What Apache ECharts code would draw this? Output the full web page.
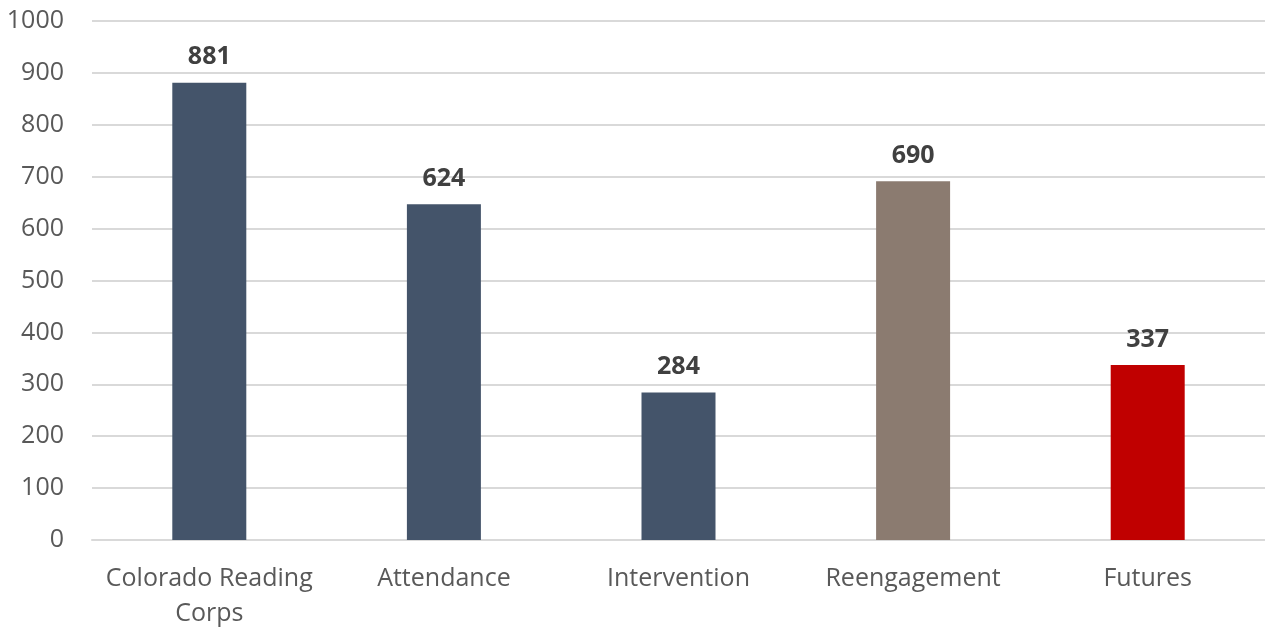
<!DOCTYPE html>
<html><head><meta charset="utf-8">
<script src="https://cdn.jsdelivr.net/npm/echarts@6/dist/echarts.min.js"></script>
<style>html,body{margin:0;padding:0;background:#fff}#c{width:1265px;height:631px}</style>
</head><body><div id="c"></div>
<script>
var categories = ["Colorado Reading\nCorps", "Attendance", "Intervention", "Reengagement", "Futures"];
var barValues = [881, 647, 284, 691, 337];
var labelTexts = ["881", "624", "284", "690", "337"];
var barColors = ["#44546A", "#44546A", "#44546A", "#8B7B70", "#C00000"];
var yTicks = [0, 100, 200, 300, 400, 500, 600, 700, 800, 900, 1000];

var chart = echarts.init(document.getElementById('c'));
chart.setOption({
  animation: false,
  grid: {left: 92, right: 0, top: 21, bottom: 89},
  xAxis: {
    type: 'category', data: categories,
    axisTick: {show: false},
    axisLine: {lineStyle: {color: '#d9d9d9', width: 2}},
    axisLabel: {color: '#595959', fontFamily: 'Open Sans', fontSize: 25, margin: 21, lineHeight: 35, interval: 0}
  },
  yAxis: {
    type: 'value', min: yTicks[0], max: yTicks[yTicks.length-1], interval: 100,
    axisLine: {show: false}, axisTick: {show: false},
    splitLine: {lineStyle: {color: '#d9d9d9', width: 2}},
    axisLabel: {color: '#595959', fontFamily: 'Open Sans', fontSize: 25, margin: 28,
      formatter: function(v){ return String(v); }}
  },
  series: [{
    type: 'bar', barWidth: 74,
    data: barValues.map(function(v, i){ return {value: v, itemStyle: {color: barColors[i]}}; }),
    label: {
      show: true, position: 'top', distance: 13,
      color: '#404040', fontFamily: 'Open Sans', fontWeight: 'bold', fontSize: 25,
      formatter: function(p){ return labelTexts[p.dataIndex]; }
    }
  }]
});
</script></body></html>
